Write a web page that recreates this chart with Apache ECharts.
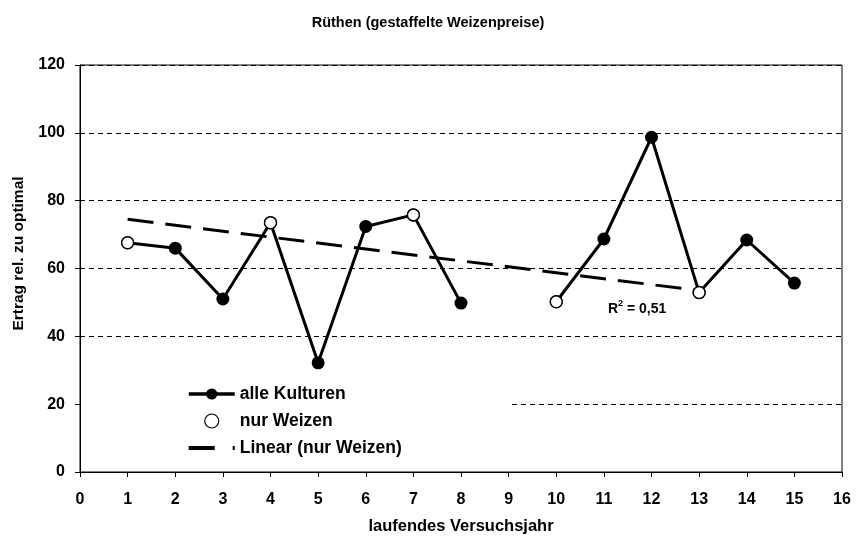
<!DOCTYPE html>
<html>
<head>
<meta charset="utf-8">
<script src="https://cdn.jsdelivr.net/npm/echarts@6/dist/echarts.min.js"></script>
<style>
  html, body { margin: 0; padding: 0; background: #fff; }
  #chart { width: 856px; height: 541px; }
</style>
</head>
<body>
<div id="chart"></div>
<script>
// laufendes Versuchsjahr / Ertrag rel. zu optimal
const years = [1, 2, 3, 4, 5, 6, 7, 8, 9, 10, 11, 12, 13, 14, 15];
const alleKulturen = [67.6, 66.0, 51.0, 73.5, 32.2, 72.4, 75.8, 49.8, '-', 50.2, 68.7, 98.7, 52.9, 68.4, 55.7];
const weizenYears = [1, 4, 7, 10, 13];
const nurWeizen = [67.6, 73.5, 75.8, 50.2, 52.9];
// Trendlinie (nur Weizen), Endpunkte
const trendYears = [1, 13];
const trendValues = [74.5, 53.5];
const yTicks = [0, 20, 40, 60, 80, 100, 120];

const font = "'Liberation Sans', Arial, sans-serif";

const chart = echarts.init(document.getElementById('chart'));

const option = {
  animation: false,
  backgroundColor: '#fff',
  title: {
    text: 'Rüthen (gestaffelte Weizenpreise)',
    left: 'center',
    top: 10,
    textStyle: { fontFamily: font, fontSize: 14.5, fontWeight: 'bold', color: '#000' }
  },
  grid: {
    left: 80, right: 14, top: 65, bottom: 69,
    show: true, borderColor: '#000', borderWidth: 1
  },
  legend: {
    orient: 'vertical',
    left: 182,
    top: 380,
    itemWidth: 46,
    itemHeight: 14,
    itemGap: 9,
    textStyle: { fontFamily: font, fontSize: 17.5, fontWeight: 'bold', color: '#000' },
    data: [
      { name: 'alle Kulturen', lineStyle: { width: 3.5, color: '#000' } },
      { name: 'nur Weizen', icon: 'circle', itemStyle: { color: '#fff', borderColor: '#000', borderWidth: 1.2 } },
      { name: 'Linear (nur Weizen)', icon: 'path://M0,0H26V4H0Z M44,0H46V4H44Z', itemStyle: { color: '#000' } }
    ]
  },
  xAxis: {
    type: 'value',
    min: 0, max: 16, interval: 1,
    name: 'laufendes Versuchsjahr',
    nameLocation: 'middle',
    nameGap: 46,
    nameTextStyle: { fontFamily: font, fontSize: 16.5, fontWeight: 'bold', color: '#000' },
    axisLine: { lineStyle: { color: '#000', width: 1 } },
    axisTick: { length: 5, lineStyle: { color: '#000' } },
    axisLabel: { fontFamily: font, fontSize: 16, fontWeight: 'bold', color: '#000', margin: 20 },
    splitLine: { show: false }
  },
  yAxis: {
    type: 'value',
    min: yTicks[0], max: yTicks[yTicks.length - 1], interval: 20,
    name: 'Ertrag rel. zu optimal',
    nameLocation: 'middle',
    nameGap: 53,
    nameTextStyle: { fontFamily: font, fontSize: 15.5, fontWeight: 'bold', color: '#000', padding: [0, 0, 0, 30] },
    axisLine: { show: true, lineStyle: { color: '#000', width: 1 } },
    axisTick: { show: true, length: 5, lineStyle: { color: '#000' } },
    axisLabel: { fontFamily: font, fontSize: 16, fontWeight: 'bold', color: '#000', margin: 15 },
    splitLine: { show: true, lineStyle: { color: '#000', type: [5, 4], width: 1 } }
  },
  graphic: [
    {
      // weisser Legendenhintergrund
      type: 'rect',
      z: 1,
      shape: { x: 81, y: 392, width: 428, height: 20 },
      style: { fill: '#fff' }
    },
    {
      type: 'text',
      z: 10,
      left: 608,
      top: 299,
      style: {
        text: '{a|R}{s|2}{a| = 0,51}',
        rich: {
          a: { fontFamily: font, fontSize: 14, fontWeight: 'bold', fill: '#000', verticalAlign: 'bottom', lineHeight: 17 },
          s: { fontFamily: font, fontSize: 9, fontWeight: 'bold', fill: '#000', verticalAlign: 'top', lineHeight: 17 }
        }
      }
    }
  ],
  series: [
    {
      name: 'Linear (nur Weizen)',
      type: 'line',
      z: 2,
      data: trendYears.map((x, i) => [x, trendValues[i]]),
      symbol: 'none',
      lineStyle: { color: '#000', width: 3, type: [26, 12] },
      itemStyle: { color: '#000' }
    },
    {
      name: 'alle Kulturen',
      type: 'line',
      z: 3,
      data: years.map((x, i) => [x, alleKulturen[i]]),
      connectNulls: false,
      symbol: 'circle',
      symbolSize: 13,
      lineStyle: { color: '#000', width: 3 },
      itemStyle: { color: '#000' }
    },
    {
      name: 'nur Weizen',
      type: 'scatter',
      z: 4,
      data: weizenYears.map((x, i) => [x, nurWeizen[i]]),
      symbol: 'circle',
      symbolSize: 12,
      itemStyle: { color: '#fff', borderColor: '#000', borderWidth: 1.5, opacity: 1 }
    }
  ]
};

chart.setOption(option);
</script>
</body>
</html>
